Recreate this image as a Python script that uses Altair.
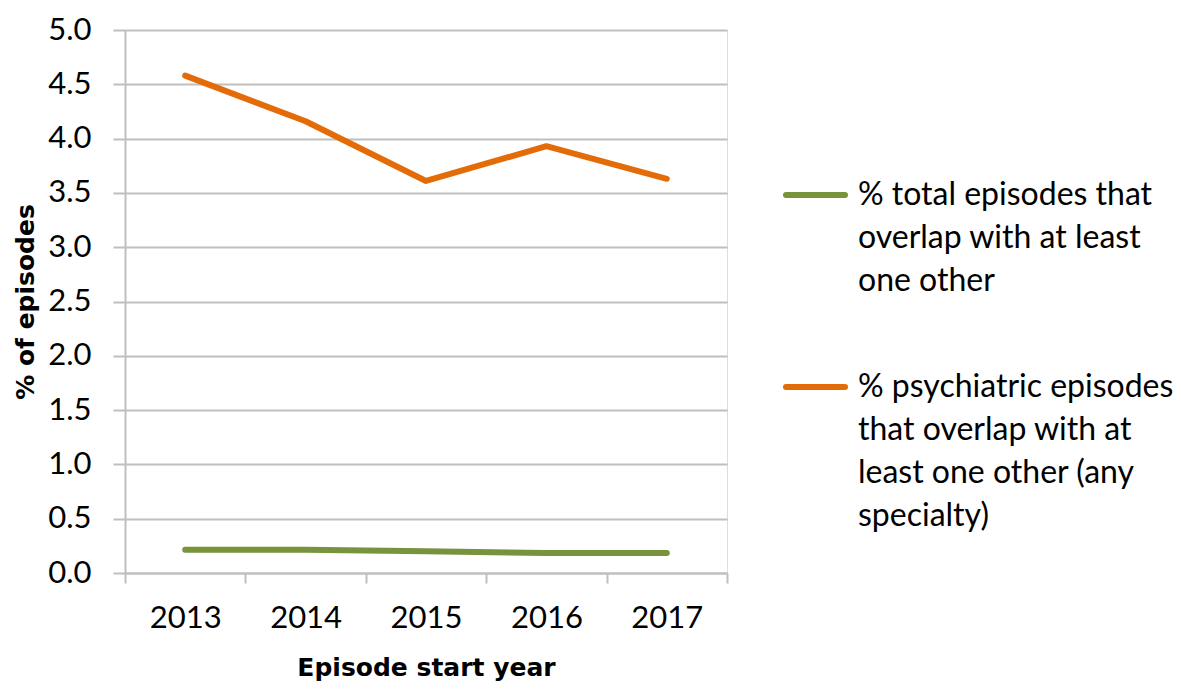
import altair as alt
import pandas as pd

years = ["2013", "2014", "2015", "2016", "2017"]
total_pct = [0.215, 0.215, 0.20, 0.185, 0.185]
psych_pct = [4.58, 4.16, 3.61, 3.93, 3.63]
series_names = [
    "% total episodes that overlap with at least one other",
    "% psychiatric episodes that overlap with at least one other (any specialty)",
]
legend_lines = [
    ["% total episodes that", "overlap with at least", "one other"],
    ["% psychiatric episodes", "that overlap with at", "least one other (any", "specialty)"],
]
colors = ["#77933C", "#E36C09"]
FONT = "Lato"
TFONT = "DejaVu Sans"
GRID = "#BFBFBF"

df = pd.DataFrame({
    "year": years * 2,
    "value": total_pct + psych_pct,
    "series": [series_names[0]] * 5 + [series_names[1]] * 5,
})

color_scale = alt.Scale(domain=series_names, range=colors)

lines = alt.Chart(df).mark_line(strokeWidth=6, strokeCap="round", strokeJoin="round").encode(
    x=alt.X(
        "year:N",
        scale=alt.Scale(type="band", paddingInner=0, paddingOuter=0),
        bandPosition=0.5,
        axis=alt.Axis(
            title="Episode start year",
            labelAngle=0,
            tickBand="extent",
            grid=False,
            domainColor=GRID,
            domainWidth=2,
            tickColor=GRID,
            tickWidth=2,
            tickSize=10,
            labelFont=FONT,
            labelFontSize=31,
            labelColor="#000000",
            labelPadding=20,
            titleFont=TFONT,
            titleFontSize=25,
            titleFontWeight="bold",
            titleColor="#000000",
            titlePadding=22,
        ),
    ),
    y=alt.Y(
        "value:Q",
        scale=alt.Scale(domain=[0, 5], nice=False),
        axis=alt.Axis(
            title="% of episodes",
            values=[i * 0.5 for i in range(11)],
            format=".1f",
            grid=True,
            gridColor=GRID,
            gridWidth=2,
            domainColor=GRID,
            domainWidth=2,
            tickColor=GRID,
            tickWidth=2,
            tickSize=12,
            labelFont=FONT,
            labelFontSize=31,
            labelColor="#000000",
            labelPadding=22,
            titleFont=TFONT,
            titleFontSize=25,
            titleFontWeight="bold",
            titleColor="#000000",
            titlePadding=9,
        ),
    ),
    color=alt.Color("series:N", scale=color_scale, legend=None),
    order=alt.Order("year:N"),
)

# legend (layout elements placed to the right of the plot area)
leg_df = pd.DataFrame({
    "series": series_names,
    "text": ["|".join(l) for l in legend_lines],
    "ypos": [165, 357],
})

leg_rules = alt.Chart(leg_df).mark_rule(strokeWidth=6, strokeCap="round").encode(
    x=alt.value(661),
    x2=alt.value(720),
    y=alt.Y("ypos:Q", scale=None),
    color=alt.Color("series:N", scale=color_scale, legend=None),
)

leg_text = alt.Chart(leg_df).mark_text(
    align="left", baseline="middle", font=FONT, fontSize=32, lineBreak="|",
    lineHeight=43, color="#000000",
).encode(
    x=alt.value(733),
    y=alt.Y("ypos:Q", scale=None),
    text="text:N",
)

chart = alt.layer(lines, leg_rules, leg_text).properties(
    width=602,
    height=543,
    autosize=alt.AutoSizeParams(type="none"),
    padding={"left": 117, "top": 22, "right": 446, "bottom": 110},
).configure_view(stroke=None).configure(background="#FFFFFF")

chart.save("out.html", embed_options={"renderer": "svg", "actions": False})
